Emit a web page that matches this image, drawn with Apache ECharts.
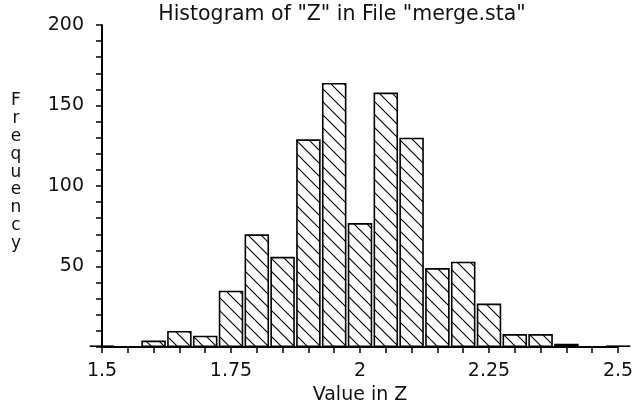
<!DOCTYPE html>
<html>
<head>
<meta charset="utf-8">
<script src="https://cdn.jsdelivr.net/npm/echarts@6/dist/echarts.min.js"></script>
<style>
html,body{margin:0;padding:0;background:#fff;}
#chart{width:635px;height:405px;}
</style>
</head>
<body>
<div id="chart"></div>
<script>
// Bin centres (Value in Z)
const binCenters = [1.5, 1.55, 1.6, 1.65, 1.7, 1.75, 1.8, 1.85, 1.9, 1.95, 2.0, 2.05, 2.1, 2.15, 2.2, 2.25, 2.3, 2.35, 2.4, 2.45, 2.5];
// Frequencies
const frequencies = [1, 0, 4, 10, 7, 35, 70, 56, 129, 164, 77, 158, 130, 49, 53, 27, 8, 8, 2, 0, 1];
const titleText = 'Histogram of "Z" in File "merge.sta"';
const xName = 'Value in Z';
const yName = 'Frequency';

function makeHatch() {
  const s = 13;
  const c = document.createElement('canvas');
  c.width = s; c.height = s;
  const g = c.getContext('2d');
  g.fillStyle = '#fff';
  g.fillRect(0, 0, s, s);
  g.strokeStyle = '#000';
  g.lineWidth = 1.1;
  g.beginPath();
  g.moveTo(-1, -1); g.lineTo(s + 1, s + 1);
  g.moveTo(-2, s - 2); g.lineTo(2, s + 2);
  g.moveTo(s - 2, -2); g.lineTo(s + 2, 2);
  g.stroke();
  return c;
}

const chart = echarts.init(document.getElementById('chart'), null, {renderer: 'canvas'});
const font = 'DejaVu Sans';
const data = binCenters.map((x, i) => [x, frequencies[i]]);

chart.setOption({
  animation: false,
  backgroundColor: '#fff',
  grid: {left: 102, right: 17, top: 25, bottom: 58, containLabel: false, outerBoundsMode: 'none'},
  graphic: [
    {type: 'text', x: 342, y: 4,
     style: {text: titleText, fill: '#111', font: '20.5px "DejaVu Sans"', textAlign: 'center', textVerticalAlign: 'top'}},
    {type: 'text', x: 16, y: 92,
     style: {text: yName.split('').join('\n'), fill: '#111', font: '17px "DejaVu Sans"', lineHeight: 17.8, textAlign: 'center', textVerticalAlign: 'top'}}
  ],
  xAxis: {
    type: 'value', min: 1.5, max: 2.5, interval: 0.25,
    name: xName, nameLocation: 'middle', nameGap: 35,
    nameTextStyle: {fontFamily: font, fontSize: 19, color: '#111'},
    axisLine: {show: true, onZero: false, lineStyle: {color: '#000', width: 2}},
    axisTick: {show: true, length: 6, lineStyle: {color: '#000', width: 1.5}},
    minorTick: {show: true, splitNumber: 5, length: 6, lineStyle: {color: '#000', width: 1.5}},
    axisLabel: {fontFamily: font, fontSize: 19, color: '#111', margin: 15},
    splitLine: {show: false}
  },
  yAxis: {
    type: 'value', min: 0, max: 200, interval: 50,
    axisLine: {show: true, lineStyle: {color: '#000', width: 2}},
    axisTick: {show: true, length: 6, lineStyle: {color: '#000', width: 1.5}},
    minorTick: {show: true, splitNumber: 5, length: 6, lineStyle: {color: '#000', width: 1.5}},
    axisLabel: {fontFamily: font, fontSize: 19, color: '#111', margin: 18, showMinLabel: false},
    splitLine: {show: false}
  },
  series: [{
    type: 'bar',
    data: data,
    barWidth: 24.5,
    clip: false,
    itemStyle: {
      color: {image: makeHatch(), repeat: 'repeat'},
      borderColor: '#000',
      borderWidth: 1.6
    }
  }]
});
</script>
</body>
</html>
